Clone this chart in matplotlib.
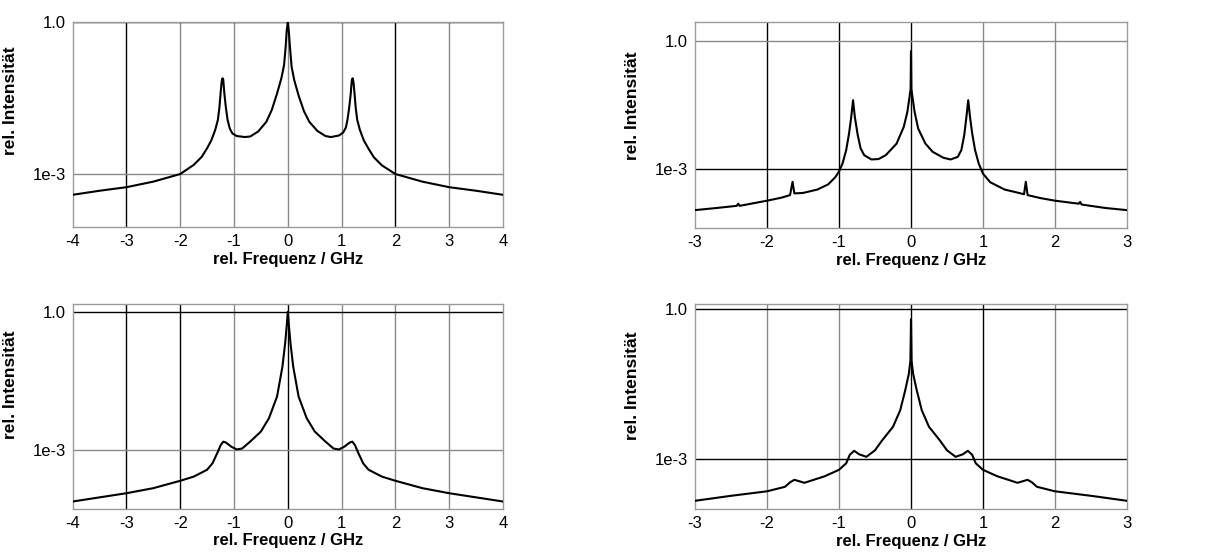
import numpy as np
import matplotlib
matplotlib.use("Agg")
import matplotlib.pyplot as plt

plt.rcParams['font.family'] = ['Liberation Sans', 'DejaVu Sans']

# values; intensities given as log10
f1 = [-4, -3.5, -3, -2.5, -2, -1.75, -1.6, -1.5, -1.42, -1.35, -1.3, -1.27, -1.25, -1.23,
      -1.215, -1.2, -1.18, -1.15, -1.12, -1.08, -1.03, -0.95, -0.8, -0.7, -0.55, -0.4,
      -0.3, -0.2, -0.12, -0.07, -0.04, -0.02, 0,
      0.02, 0.04, 0.07, 0.12, 0.2, 0.3, 0.4, 0.55, 0.7, 0.8, 0.95, 1.03, 1.08, 1.11,
      1.14, 1.17, 1.19, 1.205, 1.22, 1.24, 1.26, 1.29, 1.34, 1.41, 1.5, 1.6, 1.75,
      2.0, 2.5, 3, 3.5, 4]
i1 = [-3.41, -3.33, -3.26, -3.15, -3.0, -2.82, -2.66, -2.49, -2.33, -2.13, -1.93, -1.67, -1.41, -1.18,
      -1.11, -1.14, -1.41, -1.70, -1.93, -2.10, -2.20, -2.25, -2.27, -2.26, -2.16, -1.97,
      -1.74, -1.41, -1.11, -0.85, -0.49, -0.16, 0.0,
      -0.2, -0.5, -0.88, -1.15, -1.45, -1.76, -1.97, -2.15, -2.25, -2.27, -2.24, -2.18, -2.08, -1.92,
      -1.70, -1.41, -1.14, -1.11, -1.18, -1.41, -1.67, -1.93, -2.13, -2.33, -2.5, -2.67, -2.83,
      -3.0, -3.15, -3.26, -3.33, -3.41]

f2 = [-3, -2.7, -2.42, -2.4, -2.38, -2.0, -1.8, -1.68, -1.645, -1.62, -1.5, -1.3, -1.15,
      -1.05, -1.0, -0.95, -0.9, -0.86, -0.83, -0.805, -0.78, -0.74, -0.7, -0.65, -0.55,
      -0.45, -0.35, -0.2, -0.1, -0.05, -0.02, -0.005, 0, 0.005, 0.02, 0.05, 0.1, 0.2, 0.3,
      0.45, 0.55, 0.65, 0.7, 0.74, 0.77, 0.795, 0.82, 0.85, 0.89, 0.94, 1.0, 1.1, 1.3,
      1.5, 1.57, 1.595, 1.62, 1.8, 2.0, 2.33, 2.35, 2.37, 2.7, 3]
i2 = [-3.95, -3.9, -3.85, -3.8, -3.85, -3.73, -3.66, -3.6, -3.29, -3.56, -3.55, -3.47, -3.35,
      -3.18, -3.05, -2.86, -2.55, -2.16, -1.78, -1.39, -1.78, -2.2, -2.51, -2.67, -2.77,
      -2.76, -2.67, -2.40, -2.01, -1.66, -1.31, -1.12, -0.25, -1.12, -1.31, -1.66, -2.05, -2.40, -2.59,
      -2.73, -2.77, -2.71, -2.55, -2.2, -1.78, -1.39, -1.78, -2.16, -2.55, -2.86, -3.1, -3.3, -3.47,
      -3.55, -3.58, -3.29, -3.6, -3.67, -3.73, -3.8, -3.76, -3.82, -3.9, -3.95]

f3 = [-4, -3.5, -3, -2.5, -2, -1.75, -1.5, -1.4, -1.3, -1.25, -1.2, -1.15, -1.05, -0.95,
      -0.85, -0.7, -0.5, -0.35, -0.2, -0.1, -0.05, -0.02, 0,
      0.02, 0.05, 0.1, 0.2, 0.35, 0.5, 0.7, 0.85, 0.95, 1.05, 1.15, 1.2, 1.25, 1.3,
      1.4, 1.5, 1.75, 2, 2.5, 3, 3.5, 4]
i3 = [-4.12, -4.03, -3.94, -3.83, -3.67, -3.58, -3.43, -3.29, -3.04, -2.9, -2.82, -2.84, -2.93, -2.99,
      -2.97, -2.82, -2.6, -2.31, -1.84, -1.19, -0.69, -0.3, 0.0,
      -0.3, -0.69, -1.19, -1.84, -2.31, -2.6, -2.82, -2.97, -2.99, -2.93, -2.84, -2.82, -2.9, -3.04,
      -3.29, -3.43, -3.58, -3.67, -3.83, -3.94, -4.03, -4.12]

f4 = [-3, -2.5, -2, -1.75, -1.68, -1.62, -1.55, -1.48, -1.2, -1.0, -0.9, -0.85, -0.79,
      -0.72, -0.62, -0.5, -0.4, -0.25, -0.15, -0.08, -0.03, -0.008, 0,
      0.008, 0.03, 0.08, 0.15, 0.25, 0.4, 0.5, 0.62, 0.72, 0.79, 0.85, 0.9, 1.0, 1.2,
      1.48, 1.55, 1.62, 1.68, 1.75, 2, 2.5, 3]
i4 = [-3.83, -3.73, -3.64, -3.55, -3.46, -3.41, -3.44, -3.47, -3.34, -3.21, -3.08, -2.91, -2.83,
      -2.9, -2.95, -2.82, -2.62, -2.35, -2.02, -1.62, -1.29, -1.03, -0.2,
      -1.03, -1.29, -1.62, -2.02, -2.35, -2.62, -2.82, -2.95, -2.9, -2.83, -2.91, -3.08, -3.21, -3.34,
      -3.47, -3.44, -3.41, -3.46, -3.55, -3.64, -3.73, -3.83]

xlims = [(-4, 4), (-3, 3), (-4, 4), (-3, 3)]
ylims = [(9e-5, 1.0), (4.3e-5, 2.7), (5.3e-5, 1.47), (1e-4, 1.26)]
xticks_all = [[-4, -3, -2, -1, 0, 1, 2, 3, 4], [-3, -2, -1, 0, 1, 2, 3],
              [-4, -3, -2, -1, 0, 1, 2, 3, 4], [-3, -2, -1, 0, 1, 2, 3]]
ytick_vals = [1e-3, 1.0]
ytick_labels = ['1e-3', '1.0']

# scan look: some grid lines came out darker than others
vgrid_dark = [[-3, 2], [-2, -1, 0], [-3, -2, 0], [0, 1]]
hgrid_dark = [[1.0], [1e-3], [1.0], [1e-3, 1.0]]

positions = [[0.0597, 0.5917, 0.3536, 0.3687],
             [0.5711, 0.5899, 0.3549, 0.3705],
             [0.0597, 0.0851, 0.3536, 0.3681],
             [0.5711, 0.0840, 0.3549, 0.3687]]
label_y = [0.615, 0.593, 0.604, 0.602]

fig = plt.figure(figsize=(12.17, 5.56), dpi=100)
fig.patch.set_facecolor('white')

panels = [(f1, i1), (f2, i2), (f3, i3), (f4, i4)]
for k, (f, li) in enumerate(panels):
    ax = fig.add_axes(positions[k])
    ax.set_yscale('log')
    ax.plot(f, 10.0 ** np.array(li), color='black', lw=1.5, zorder=3)
    ax.set_xlim(xlims[k])
    ax.set_ylim(ylims[k])

    ax.set_xticks(xticks_all[k])
    ax.set_xticklabels([str(t) for t in xticks_all[k]], fontsize=12)
    ax.set_yticks(ytick_vals)
    ax.set_yticklabels(ytick_labels, fontsize=12)
    ax.yaxis.set_minor_locator(matplotlib.ticker.NullLocator())
    ax.tick_params(length=0, pad=5)

    for t in xticks_all[k]:
        if xlims[k][0] < t < xlims[k][1]:
            c = 'black' if t in vgrid_dark[k] else '#8a8a8a'
            ax.axvline(t, color=c, lw=1.0, zorder=1)
    for t in ytick_vals:
        c = 'black' if t in hgrid_dark[k] else '#8a8a8a'
        ax.axhline(t, color=c, lw=1.0, zorder=1)

    for s in ax.spines.values():
        s.set_color('#9a9a9a')
        s.set_linewidth(1.0)

    ax.set_xlabel('rel. Frequenz / GHz', fontsize=12, fontweight='bold', labelpad=2)
    ax.set_ylabel('rel. Intensität', fontsize=12.5, fontweight='bold')
    ax.yaxis.set_label_coords(-0.127, label_y[k])

fig.savefig('out.png', dpi=100, facecolor='white')
